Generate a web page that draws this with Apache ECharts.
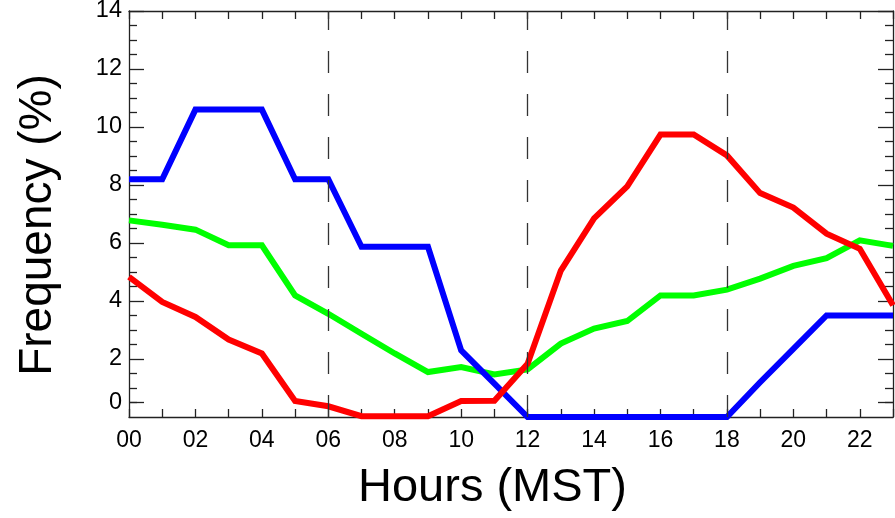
<!DOCTYPE html>
<html>
<head>
<meta charset="utf-8">
<script src="https://cdn.jsdelivr.net/npm/echarts@6/dist/echarts.min.js"></script>
<style>
html,body{margin:0;padding:0;background:#fff;}
#chart{width:895px;height:518px;}
</style>
</head>
<body>
<div id="chart"></div>
<script>
var hours = [0,1,2,3,4,5,6,7,8,9,10,11,12,13,14,15,16,17,18,19,20,21,22,23];
var blue  = [8.2,8.2,10.6,10.6,10.6,8.2,8.2,5.87,5.87,5.87,2.3,1.15,0,0,0,0,0,0,0,1.2,2.35,3.5,3.5,3.5];
var red   = [4.83,3.97,3.45,2.67,2.19,0.55,0.37,0.03,0.03,0.03,0.55,0.56,1.84,5.05,6.85,7.95,9.74,9.74,9.02,7.72,7.22,6.32,5.8,3.85];
var green = [6.78,6.63,6.46,5.92,5.92,4.19,3.56,2.87,2.19,1.55,1.72,1.47,1.64,2.53,3.05,3.31,4.19,4.19,4.39,4.77,5.21,5.48,6.09,5.9];
var xLabels = [0,2,4,6,8,10,12,14,16,18,20,22];
var yLabels = [0.5,2,4,6,8,10,12,14];   // the "0" label sits half a unit up, as in the original plot
var dividers = [6,12,18];

var font = 'Liberation Sans, Arial, Helvetica, sans-serif';
var ink = '#222';
var chart = echarts.init(document.getElementById('chart'));

function pairs(vals){
    var out = [];
    for(var i in hours) out.push([hours[i], vals[i]]);
    return out;
}

function frameX(pos, show){
    return {
        type: 'value', position: pos, min: 0, max: 23, interval: 1,
        axisLine: {show: true, onZero: false, lineStyle: {color: ink, width: 1.3}},
        axisTick: {show: true, inside: true, length: 8, lineStyle: {color: ink, width: 1.3}},
        axisLabel: {
            show: show, customValues: xLabels, margin: 12,
            fontSize: 23, color: '#000', fontFamily: font,
            formatter: function(v){ return (v < 10 ? '0' : '') + v; }
        },
        splitLine: {show: false}
    };
}

function frameY(pos, show){
    return {
        type: 'value', position: pos, min: 0, max: 14, interval: 2,
        axisLine: {show: true, onZero: false, lineStyle: {color: ink, width: 1.3}},
        axisTick: {show: true, inside: true, length: 15, customValues: yLabels, lineStyle: {color: ink, width: 1.3}},
        minorTick: {show: true, splitNumber: 4, length: 8, lineStyle: {color: ink, width: 1.3}},
        axisLabel: {
            show: show, customValues: yLabels, margin: 7,
            fontSize: 23.5, color: '#000', fontFamily: font,
            formatter: function(v){ return v === 0.5 ? '0' : String(v); }
        },
        splitLine: {show: false},
        minorSplitLine: {show: false}
    };
}

var xb = frameX('bottom', true);
xb.name = 'Hours (MST)';
xb.nameLocation = 'middle';
xb.nameGap = 48;
xb.nameTextStyle = {fontSize: 47, color: '#000', fontFamily: font, padding: [0, 37, 0, 0]};

var yl = frameY('left', true);
yl.name = 'Frequency (%)';
yl.nameLocation = 'middle';
yl.nameGap = 68;
yl.nameTextStyle = {fontSize: 46, color: '#000', fontFamily: font, padding: [0, 22, 0, 0]};

function line(name, vals, color){
    return {
        name: name, type: 'line', xAxisIndex: 0, yAxisIndex: 0,
        data: pairs(vals), symbol: 'none', smooth: false,
        lineStyle: {color: color, width: 6, cap: 'butt', join: 'miter'},
        itemStyle: {color: color},
        emphasis: {disabled: true},
        silent: true
    };
}

var series = [
    line('green', green, '#00ff00'),
    line('blue', blue, '#0000ff'),
    line('red', red, '#ff0000')
];
series[0].markLine = {
    silent: true,
    symbol: ['none', 'none'],
    label: {show: false},
    emphasis: {disabled: true},
    lineStyle: {color: '#333', width: 1.3, type: [22, 21]},
    data: dividers.map(function(h){ return {xAxis: h}; })
};

chart.setOption({
    animation: false,
    backgroundColor: '#fff',
    grid: {left: 129, right: 2, top: 11, bottom: 101, outerBoundsMode: 'none'},
    xAxis: [xb, frameX('top', false)],
    yAxis: [yl, frameY('right', false)],
    series: series
});
</script>
</body>
</html>
